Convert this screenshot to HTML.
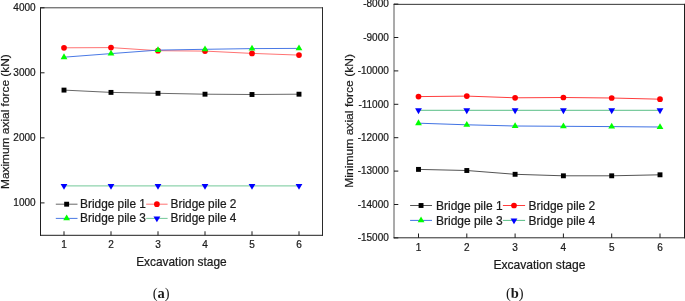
<!DOCTYPE html>
<html><head><meta charset="utf-8"><title>Axial force</title>
<style>
html,body{margin:0;padding:0;background:#fff;}
body{width:685px;height:301px;overflow:hidden;}
svg{display:block;}
text{stroke:#1a1a1a;stroke-width:0.22px;paint-order:stroke;}
text.pl{stroke:none;}
</style></head>
<body>
<svg width="685" height="301" viewBox="0 0 685 301" font-family='"Liberation Sans", Arial, Helvetica, sans-serif' fill="#1a1a1a">
<rect width="685" height="301" fill="#fff"/>
<line x1="40.5" y1="7.3" x2="40.5" y2="235.8" stroke="#1e1e1e" stroke-width="1.0"/>
<line x1="40" y1="235.3" x2="323" y2="235.3" stroke="#1e1e1e" stroke-width="1.0"/>
<line x1="40" y1="7.8" x2="323" y2="7.8" stroke="#444" stroke-width="1.0"/>
<line x1="322.5" y1="7.3" x2="322.5" y2="235.8" stroke="#2a2a2a" stroke-width="1.0"/>
<line x1="64" y1="235.3" x2="64" y2="231.3" stroke="#1c1c1c" stroke-width="1.0"/>
<text x="64" y="248.2" font-size="10" text-anchor="middle">1</text>
<line x1="111" y1="235.3" x2="111" y2="231.3" stroke="#1c1c1c" stroke-width="1.0"/>
<text x="111" y="248.2" font-size="10" text-anchor="middle">2</text>
<line x1="158" y1="235.3" x2="158" y2="231.3" stroke="#1c1c1c" stroke-width="1.0"/>
<text x="158" y="248.2" font-size="10" text-anchor="middle">3</text>
<line x1="205" y1="235.3" x2="205" y2="231.3" stroke="#1c1c1c" stroke-width="1.0"/>
<text x="205" y="248.2" font-size="10" text-anchor="middle">4</text>
<line x1="252" y1="235.3" x2="252" y2="231.3" stroke="#1c1c1c" stroke-width="1.0"/>
<text x="252" y="248.2" font-size="10" text-anchor="middle">5</text>
<line x1="299" y1="235.3" x2="299" y2="231.3" stroke="#1c1c1c" stroke-width="1.0"/>
<text x="299" y="248.2" font-size="10" text-anchor="middle">6</text>
<line x1="40.5" y1="7.8" x2="44.5" y2="7.8" stroke="#1c1c1c" stroke-width="1.0"/>
<text x="35.6" y="11.3" font-size="10" text-anchor="end">4000</text>
<line x1="40.5" y1="72.8" x2="44.5" y2="72.8" stroke="#1c1c1c" stroke-width="1.0"/>
<text x="35.6" y="76.3" font-size="10" text-anchor="end">3000</text>
<line x1="40.5" y1="137.85" x2="44.5" y2="137.85" stroke="#1c1c1c" stroke-width="1.0"/>
<text x="35.6" y="141.35" font-size="10" text-anchor="end">2000</text>
<line x1="40.5" y1="202.9" x2="44.5" y2="202.9" stroke="#1c1c1c" stroke-width="1.0"/>
<text x="35.6" y="206.4" font-size="10" text-anchor="end">1000</text>
<polyline points="64,90.1 111,92.4 158,93.3 205,94.2 252,94.5 299,94.2" fill="none" stroke="#000000" stroke-width="0.8" stroke-opacity="0.75"/>
<rect x="61.55" y="87.65" width="4.9" height="4.9" fill="#000"/>
<rect x="108.55" y="89.95" width="4.9" height="4.9" fill="#000"/>
<rect x="155.55" y="90.85" width="4.9" height="4.9" fill="#000"/>
<rect x="202.55" y="91.75" width="4.9" height="4.9" fill="#000"/>
<rect x="249.55" y="92.05" width="4.9" height="4.9" fill="#000"/>
<rect x="296.55" y="91.75" width="4.9" height="4.9" fill="#000"/>
<polyline points="64,47.8 111,47.6 158,50.7 205,51.1 252,53.4 299,55.1" fill="none" stroke="#ff0000" stroke-width="0.9" stroke-opacity="0.62"/>
<circle cx="64" cy="47.8" r="2.85" fill="#ff0000"/>
<circle cx="111" cy="47.6" r="2.85" fill="#ff0000"/>
<circle cx="158" cy="50.7" r="2.85" fill="#ff0000"/>
<circle cx="205" cy="51.1" r="2.85" fill="#ff0000"/>
<circle cx="252" cy="53.4" r="2.85" fill="#ff0000"/>
<circle cx="299" cy="55.1" r="2.85" fill="#ff0000"/>
<polyline points="64,185.9 111,185.9 158,185.9 205,185.9 252,185.9 299,185.9" fill="none" stroke="#3cb371" stroke-width="0.9" stroke-opacity="0.8"/>
<polygon points="60.6,183.97 67.4,183.97 64,189.77" fill="#0000ff"/>
<polygon points="107.6,183.97 114.4,183.97 111,189.77" fill="#0000ff"/>
<polygon points="154.6,183.97 161.4,183.97 158,189.77" fill="#0000ff"/>
<polygon points="201.6,183.97 208.4,183.97 205,189.77" fill="#0000ff"/>
<polygon points="248.6,183.97 255.4,183.97 252,189.77" fill="#0000ff"/>
<polygon points="295.6,183.97 302.4,183.97 299,189.77" fill="#0000ff"/>
<polyline points="64,57.2 111,53.6 158,50.1 205,49.3 252,48.6 299,48.4" fill="none" stroke="#2a62e0" stroke-width="0.9" stroke-opacity="0.95"/>
<polygon points="64,53.33 67.4,59.13 60.6,59.13" fill="#00ff00"/>
<polygon points="111,49.73 114.4,55.53 107.6,55.53" fill="#00ff00"/>
<polygon points="158,46.23 161.4,52.03 154.6,52.03" fill="#00ff00"/>
<polygon points="205,45.43 208.4,51.23 201.6,51.23" fill="#00ff00"/>
<polygon points="252,44.73 255.4,50.53 248.6,50.53" fill="#00ff00"/>
<polygon points="299,44.53 302.4,50.33 295.6,50.33" fill="#00ff00"/>
<line x1="55.8" y1="204.2" x2="77.5" y2="204.2" stroke="#000000" stroke-width="0.8" stroke-opacity="0.75"/>
<rect x="64.2" y="201.75" width="4.9" height="4.9" fill="#000"/>
<text transform="translate(80.1,207.9) scale(1,1.06)" font-size="11.85">Bridge pile 1</text>
<line x1="146.2" y1="204.2" x2="167.6" y2="204.2" stroke="#ff0000" stroke-width="0.9" stroke-opacity="0.62"/>
<circle cx="156.9" cy="204.2" r="2.85" fill="#ff0000"/>
<text transform="translate(170.6,207.9) scale(1,1.06)" font-size="11.85">Bridge pile 2</text>
<line x1="55.8" y1="218.4" x2="77.5" y2="218.4" stroke="#2a62e0" stroke-width="0.9" stroke-opacity="0.95"/>
<polygon points="66.65,214.53 70.05,220.33 63.25,220.33" fill="#00ff00"/>
<text transform="translate(80.1,222.1) scale(1,1.06)" font-size="11.85">Bridge pile 3</text>
<line x1="146.2" y1="218.4" x2="167.6" y2="218.4" stroke="#3cb371" stroke-width="0.9" stroke-opacity="0.8"/>
<polygon points="153.5,216.47 160.3,216.47 156.9,222.27" fill="#0000ff"/>
<text transform="translate(170.6,222.1) scale(1,1.06)" font-size="11.85">Bridge pile 4</text>
<text transform="translate(181.4,266.2) scale(1,1.06)" font-size="11.9" text-anchor="middle">Excavation stage</text>
<text transform="translate(8.9,121.6) rotate(-90) scale(1,0.93)" font-size="11.9" text-anchor="middle">Maximum axial force (kN)</text>
<text class="pl" x="161.2" y="298.4" font-family='"Liberation Serif", "Times New Roman", serif' font-size="14.5" text-anchor="middle">(<tspan font-weight="bold">a</tspan>)</text>
<line x1="394" y1="3.85" x2="394" y2="238.3" stroke="#444" stroke-width="0.9"/>
<line x1="393.55" y1="237.8" x2="685" y2="237.8" stroke="#2a2a2a" stroke-width="1.0"/>
<line x1="393.55" y1="4.35" x2="685" y2="4.35" stroke="#333" stroke-width="1.0"/>
<line x1="684.5" y1="3.85" x2="684.5" y2="238.3" stroke="#1e1e1e" stroke-width="1.0"/>
<line x1="418.5" y1="237.8" x2="418.5" y2="233.5" stroke="#1c1c1c" stroke-width="1.0"/>
<text x="418.5" y="250.7" font-size="10" text-anchor="middle">1</text>
<line x1="466.8" y1="237.8" x2="466.8" y2="233.5" stroke="#1c1c1c" stroke-width="1.0"/>
<text x="466.8" y="250.7" font-size="10" text-anchor="middle">2</text>
<line x1="515.1" y1="237.8" x2="515.1" y2="233.5" stroke="#1c1c1c" stroke-width="1.0"/>
<text x="515.1" y="250.7" font-size="10" text-anchor="middle">3</text>
<line x1="563.4" y1="237.8" x2="563.4" y2="233.5" stroke="#1c1c1c" stroke-width="1.0"/>
<text x="563.4" y="250.7" font-size="10" text-anchor="middle">4</text>
<line x1="611.7" y1="237.8" x2="611.7" y2="233.5" stroke="#1c1c1c" stroke-width="1.0"/>
<text x="611.7" y="250.7" font-size="10" text-anchor="middle">5</text>
<line x1="660" y1="237.8" x2="660" y2="233.5" stroke="#1c1c1c" stroke-width="1.0"/>
<text x="660" y="250.7" font-size="10" text-anchor="middle">6</text>
<line x1="394" y1="4.1" x2="398.3" y2="4.1" stroke="#1c1c1c" stroke-width="1.0"/>
<text x="388.8" y="7.3" font-size="10" text-anchor="end">-8000</text>
<line x1="394" y1="37.5" x2="398.3" y2="37.5" stroke="#1c1c1c" stroke-width="1.0"/>
<text x="388.8" y="40.7" font-size="10" text-anchor="end">-9000</text>
<line x1="394" y1="70.9" x2="398.3" y2="70.9" stroke="#1c1c1c" stroke-width="1.0"/>
<text x="388.8" y="74.1" font-size="10" text-anchor="end">-10000</text>
<line x1="394" y1="104.3" x2="398.3" y2="104.3" stroke="#1c1c1c" stroke-width="1.0"/>
<text x="388.8" y="107.5" font-size="10" text-anchor="end">-11000</text>
<line x1="394" y1="137.7" x2="398.3" y2="137.7" stroke="#1c1c1c" stroke-width="1.0"/>
<text x="388.8" y="140.9" font-size="10" text-anchor="end">-12000</text>
<line x1="394" y1="171.1" x2="398.3" y2="171.1" stroke="#1c1c1c" stroke-width="1.0"/>
<text x="388.8" y="174.3" font-size="10" text-anchor="end">-13000</text>
<line x1="394" y1="204.5" x2="398.3" y2="204.5" stroke="#1c1c1c" stroke-width="1.0"/>
<text x="388.8" y="207.7" font-size="10" text-anchor="end">-14000</text>
<line x1="394" y1="237.9" x2="398.3" y2="237.9" stroke="#1c1c1c" stroke-width="1.0"/>
<text x="388.8" y="241.1" font-size="10" text-anchor="end">-15000</text>
<polyline points="418.5,169.4 466.8,170.5 515.1,174.3 563.4,175.8 611.7,175.8 660,174.8" fill="none" stroke="#000000" stroke-width="0.8" stroke-opacity="0.85"/>
<rect x="416.05" y="166.95" width="4.9" height="4.9" fill="#000"/>
<rect x="464.35" y="168.05" width="4.9" height="4.9" fill="#000"/>
<rect x="512.65" y="171.85" width="4.9" height="4.9" fill="#000"/>
<rect x="560.95" y="173.35" width="4.9" height="4.9" fill="#000"/>
<rect x="609.25" y="173.35" width="4.9" height="4.9" fill="#000"/>
<rect x="657.55" y="172.35" width="4.9" height="4.9" fill="#000"/>
<polyline points="418.5,96.6 466.8,96.1 515.1,97.8 563.4,97.5 611.7,98 660,99.2" fill="none" stroke="#ff0000" stroke-width="0.9" stroke-opacity="0.85"/>
<circle cx="418.5" cy="96.6" r="2.85" fill="#ff0000"/>
<circle cx="466.8" cy="96.1" r="2.85" fill="#ff0000"/>
<circle cx="515.1" cy="97.8" r="2.85" fill="#ff0000"/>
<circle cx="563.4" cy="97.5" r="2.85" fill="#ff0000"/>
<circle cx="611.7" cy="98" r="2.85" fill="#ff0000"/>
<circle cx="660" cy="99.2" r="2.85" fill="#ff0000"/>
<polyline points="418.5,110.3 466.8,110.3 515.1,110.3 563.4,110.3 611.7,110.3 660,110.3" fill="none" stroke="#3cb371" stroke-width="0.9" stroke-opacity="0.95"/>
<polygon points="415.1,108.37 421.9,108.37 418.5,114.17" fill="#0000ff"/>
<polygon points="463.4,108.37 470.2,108.37 466.8,114.17" fill="#0000ff"/>
<polygon points="511.7,108.37 518.5,108.37 515.1,114.17" fill="#0000ff"/>
<polygon points="560,108.37 566.8,108.37 563.4,114.17" fill="#0000ff"/>
<polygon points="608.3,108.37 615.1,108.37 611.7,114.17" fill="#0000ff"/>
<polygon points="656.6,108.37 663.4,108.37 660,114.17" fill="#0000ff"/>
<polyline points="418.5,123.2 466.8,124.8 515.1,126 563.4,126.3 611.7,126.6 660,127" fill="none" stroke="#2a62e0" stroke-width="0.9" stroke-opacity="1.0"/>
<polygon points="418.5,119.33 421.9,125.13 415.1,125.13" fill="#00ff00"/>
<polygon points="466.8,120.93 470.2,126.73 463.4,126.73" fill="#00ff00"/>
<polygon points="515.1,122.13 518.5,127.93 511.7,127.93" fill="#00ff00"/>
<polygon points="563.4,122.43 566.8,128.23 560,128.23" fill="#00ff00"/>
<polygon points="611.7,122.73 615.1,128.53 608.3,128.53" fill="#00ff00"/>
<polygon points="660,123.13 663.4,128.93 656.6,128.93" fill="#00ff00"/>
<line x1="410.1" y1="205.5" x2="432" y2="205.5" stroke="#000000" stroke-width="0.8" stroke-opacity="0.85"/>
<rect x="418.6" y="203.05" width="4.9" height="4.9" fill="#000"/>
<text transform="translate(436,209.8) scale(1,1.08)" font-size="12.0">Bridge pile 1</text>
<line x1="502.9" y1="205.5" x2="525.1" y2="205.5" stroke="#ff0000" stroke-width="0.9" stroke-opacity="0.85"/>
<circle cx="514" cy="205.5" r="2.85" fill="#ff0000"/>
<text transform="translate(528.6,209.8) scale(1,1.08)" font-size="12.0">Bridge pile 2</text>
<line x1="410.1" y1="220.4" x2="432" y2="220.4" stroke="#2a62e0" stroke-width="0.9" stroke-opacity="1.0"/>
<polygon points="421.05,216.53 424.45,222.33 417.65,222.33" fill="#00ff00"/>
<text transform="translate(436,224.7) scale(1,1.08)" font-size="12.0">Bridge pile 3</text>
<line x1="502.9" y1="220.4" x2="525.1" y2="220.4" stroke="#3cb371" stroke-width="0.9" stroke-opacity="0.95"/>
<polygon points="510.6,218.47 517.4,218.47 514,224.27" fill="#0000ff"/>
<text transform="translate(528.6,224.7) scale(1,1.08)" font-size="12.0">Bridge pile 4</text>
<text transform="translate(539.4,268.5) scale(1,1.08)" font-size="12.1" text-anchor="middle">Excavation stage</text>
<text transform="translate(353,120.9) rotate(-90) scale(1,0.95)" font-size="12.1" text-anchor="middle">Minimum axial force (kN)</text>
<text class="pl" x="514.8" y="298.4" font-family='"Liberation Serif", "Times New Roman", serif' font-size="14.5" text-anchor="middle">(<tspan font-weight="bold">b</tspan>)</text>
</svg>
</body></html>
